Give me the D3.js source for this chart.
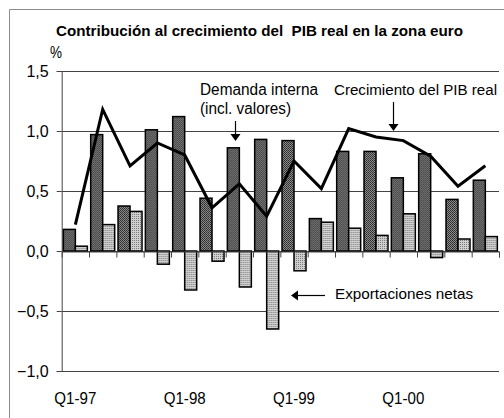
<!DOCTYPE html>
<html>
<head>
<meta charset="utf-8">
<script src="https://cdn.jsdelivr.net/npm/d3@7"></script>
<style>
  body { margin: 0; background: #fff; }
  text { font-family: "Liberation Sans", Arial, sans-serif; fill: #000; }
</style>
</head>
<body>
<script>
// Contribución al crecimiento del PIB real en la zona euro (trimestral, Q1-97 .. Q4-00)
const quarters = ["Q1-97","Q2-97","Q3-97","Q4-97","Q1-98","Q2-98","Q3-98","Q4-98",
                  "Q1-99","Q2-99","Q3-99","Q4-99","Q1-00","Q2-00","Q3-00","Q4-00"];
const demandaInterna = [0.18,0.97,0.375,1.01,1.12,0.44,0.86,0.93,0.92,0.27,0.83,0.83,0.61,0.81,0.43,0.59];
const exportNetas    = [0.04,0.22,0.33,-0.11,-0.325,-0.085,-0.30,-0.65,-0.165,0.24,0.19,0.13,0.31,-0.055,0.10,0.12];
const crecimientoPIB = [0.22,1.18,0.71,0.90,0.80,0.36,0.56,0.29,0.75,0.52,1.02,0.95,0.92,0.79,0.54,0.71];
const yTicks = [-1, -0.5, 0, 0.5, 1, 1.5];
const xLabels = ["Q1-97","Q1-98","Q1-99","Q1-00"];

const W = 504, H = 418;
const plotL = 61.7, plotR = 499, plotT = 71, plotB = 371;

const svg = d3.select("body").append("svg").attr("width", W).attr("height", H);

// patterns for the hatched bars
const defs = svg.append("defs");
const pd = defs.append("pattern").attr("id", "dark").attr("width", 2).attr("height", 2)
  .attr("patternUnits", "userSpaceOnUse");
pd.append("rect").attr("width", 2).attr("height", 2).attr("fill", "#8a8a8a");
pd.append("rect").attr("width", 1).attr("height", 1).attr("fill", "#2a2a2a");
pd.append("rect").attr("x", 1).attr("y", 1).attr("width", 1).attr("height", 1).attr("fill", "#3a3a3a");
const pl = defs.append("pattern").attr("id", "light").attr("width", 2).attr("height", 2)
  .attr("patternUnits", "userSpaceOnUse");
pl.append("rect").attr("width", 2).attr("height", 2).attr("fill", "#cfcfcf");
pl.append("rect").attr("width", 1).attr("height", 1).attr("fill", "#7c7c7c");

// outer frame (only top/left visible)
svg.append("path").attr("d", `M9.5,${H} V9.5 H${W}`).attr("fill", "none")
  .attr("stroke", "#8c8c8c").attr("stroke-width", 1);

const y = d3.scaleLinear().domain([-1, 1.5]).range([plotB, plotT]);
const x0 = d3.scaleBand().domain(quarters).range([plotL, plotR]).paddingInner(0.122).paddingOuter(0.061);
const x1 = d3.scaleBand().domain(["d", "e"]).range([0, x0.bandwidth()]);
const xi = d3.scaleLinear().domain([0, quarters.length]).range([plotL, plotR]);

const comma = d3.formatLocale({decimal: ",", thousands: ".", grouping: [3], currency: ["", "€"]}).format(".1f");

// gridlines
svg.append("g").selectAll("line").data(yTicks).join("line")
  .attr("x1", plotL).attr("x2", plotR)
  .attr("y1", d => Math.round(y(d)) + 0.5).attr("y2", d => Math.round(y(d)) + 0.5)
  .attr("stroke", "#444").attr("stroke-width", 1);

// y axis
const yAxis = svg.append("g").attr("transform", `translate(${plotL},0)`)
  .call(d3.axisLeft(y).tickValues(yTicks).tickSize(5).tickPadding(8).tickFormat(comma));
yAxis.select(".domain").attr("stroke", "#444");
yAxis.selectAll(".tick line").attr("stroke", "#444");
yAxis.selectAll(".tick text").attr("font-size", 16).attr("font-family", "Liberation Sans, Arial").attr("fill", "#000");

// bars
const g = svg.append("g").selectAll("g").data(quarters).join("g")
  .attr("transform", q => `translate(${x0(q)},0)`);
g.append("rect")
  .attr("x", x1("d")).attr("width", x1.bandwidth())
  .attr("y", (q, i) => y(Math.max(0, demandaInterna[i])))
  .attr("height", (q, i) => Math.abs(y(demandaInterna[i]) - y(0)))
  .attr("fill", "url(#dark)").attr("stroke", "#000").attr("stroke-width", 1.5);
g.append("rect")
  .attr("x", x1("e")).attr("width", x1.bandwidth())
  .attr("y", (q, i) => y(Math.max(0, exportNetas[i])))
  .attr("height", (q, i) => Math.abs(y(exportNetas[i]) - y(0)))
  .attr("fill", "url(#light)").attr("stroke", "#000").attr("stroke-width", 1.5);

// zero axis with ticks at category boundaries
const xAxis = svg.append("g").attr("transform", `translate(0,${Math.round(y(0)) + 0.5})`)
  .call(d3.axisBottom(xi).tickValues(d3.range(1, quarters.length + 1)).tickSize(6).tickFormat(""));
xAxis.select(".domain").attr("stroke", "#444");
xAxis.selectAll(".tick line").attr("stroke", "#444");

// line
const line = d3.line().x((d, i) => x0(quarters[i]) + x0.bandwidth() / 2).y(d => y(d));
svg.append("path").datum(crecimientoPIB).attr("d", line)
  .attr("fill", "none").attr("stroke", "#000").attr("stroke-width", 3).attr("stroke-linejoin", "miter");

// x labels
svg.append("g").selectAll("text").data(xLabels).join("text")
  .attr("x", q => x0(q) + x0.bandwidth() / 2).attr("y", 404)
  .attr("text-anchor", "middle").attr("font-size", 16)
  .attr("textLength", 42).attr("lengthAdjust", "spacingAndGlyphs")
  .text(q => q);

// titles and annotations
function label(txt, x, yy, size, len, bold) {
  svg.append("text").attr("x", x).attr("y", yy).attr("font-size", size)
    .attr("font-weight", bold ? "bold" : "normal")
    .attr("textLength", len).attr("lengthAdjust", "spacingAndGlyphs")
    .style("white-space", "pre").text(txt);
}
label("Contribución al crecimiento del  PIB real en la zona euro", 56, 36, 15.5, 407, true);
label("%", 50, 58, 16, 12, false);
label("Demanda interna", 200, 95, 16, 118, false);
label("(incl. valores)", 200, 114, 16, 91, false);
label("Crecimiento del PIB real", 334, 95, 15.5, 163, false);
label("Exportaciones netas", 335, 299, 15, 138, false);

function arrowDown(x, y1, y2) {
  svg.append("line").attr("x1", x).attr("x2", x).attr("y1", y1).attr("y2", y2 - 5)
    .attr("stroke", "#000").attr("stroke-width", 1.2);
  svg.append("path").attr("d", `M${x - 5},${y2 - 7} L${x + 5},${y2 - 7} L${x},${y2} Z`).attr("fill", "#000");
}
arrowDown(235.5, 121, 141);
arrowDown(393.5, 102, 131);
svg.append("line").attr("x1", 296).attr("x2", 325).attr("y1", 295.5).attr("y2", 295.5)
  .attr("stroke", "#000").attr("stroke-width", 1.2);
svg.append("path").attr("d", "M291,295.5 L298,290.5 L298,300.5 Z").attr("fill", "#000");
</script>
</body>
</html>
